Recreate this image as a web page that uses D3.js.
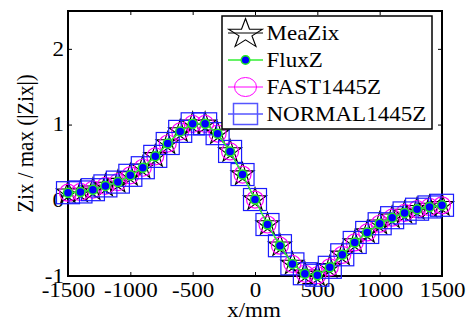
<!DOCTYPE html>
<html>
<head>
<meta charset="utf-8">
<script src="https://cdn.jsdelivr.net/npm/d3@7"></script>
<style>
  html, body { margin: 0; padding: 0; background: #fff; }
  svg { display: block; }
  svg text { font-family: "Liberation Serif", "Times New Roman", Times, serif !important; }
</style>
</head>
<body>
<svg id="chart" width="468" height="323"></svg>
<script>
  // positions along the axis, mm
  const xMM = [-1500, -1400, -1300, -1200, -1100, -1000, -900, -800, -700, -600, -500, -400, -300, -200, -100,
    0, 100, 200, 300, 400, 500, 600, 700, 800, 900, 1000, 1100, 1200, 1300, 1400, 1500];

  // normalised Zix per series
  const meaZix = [0.10, 0.11, 0.14, 0.19, 0.24, 0.33, 0.43, 0.58, 0.75, 0.91, 1.01, 1.01, 0.88, 0.645, 0.34,
    0.01, -0.32, -0.60, -0.84, -0.97, -0.99, -0.885, -0.72, -0.557, -0.425, -0.31, -0.23, -0.167, -0.118, -0.088, -0.066];
  const fluxZ = [0.10, 0.11, 0.14, 0.19, 0.24, 0.33, 0.43, 0.58, 0.75, 0.91, 1.01, 1.01, 0.88, 0.645, 0.34,
    0.01, -0.32, -0.60, -0.84, -0.97, -0.99, -0.885, -0.72, -0.557, -0.425, -0.31, -0.23, -0.167, -0.118, -0.088, -0.066];
  const fast1445Z = [0.10, 0.11, 0.14, 0.19, 0.24, 0.33, 0.43, 0.58, 0.75, 0.91, 1.01, 1.01, 0.88, 0.645, 0.34,
    0.01, -0.32, -0.60, -0.84, -0.97, -0.99, -0.885, -0.72, -0.557, -0.425, -0.31, -0.23, -0.167, -0.118, -0.088, -0.066];
  const normal1445Z = [0.10, 0.11, 0.14, 0.19, 0.24, 0.33, 0.43, 0.58, 0.75, 0.91, 1.01, 1.01, 0.88, 0.645, 0.34,
    0.01, -0.32, -0.60, -0.84, -0.97, -0.99, -0.885, -0.72, -0.557, -0.425, -0.31, -0.23, -0.167, -0.118, -0.088, -0.066];

  const xTicks = [-1500, -1000, -500, 0, 500, 1000, 1500];
  const yTicks = [-1, 0, 1, 2];
  const legendLabels = ["MeaZix", "FluxZ", "FAST1445Z", "NORMAL1445Z"];

  (function () {
  const svg = d3.select("#chart");
  const padL = 68, padR = 442, padT = 11, padB = 276;
  const SX = 1.15; // the original export is stretched sideways a bit
  const FONT = "'Liberation Serif', 'Times New Roman', serif";

  const x = d3.scaleLinear().domain([-1500, 1500]).range([padL, padR]);
  const y = d3.scaleLinear().domain([-1, 2.5]).range([padB, padT]);

  function starPath(R) {
    const r = R * 0.382;
    let p = "";
    for (let i = 0; i < 10; i++) {
      const a = -Math.PI / 2 + i * Math.PI / 5;
      const rr = i % 2 ? r : R;
      p += (i ? "L" : "M") + (rr * Math.cos(a)).toFixed(2) + "," + (rr * Math.sin(a)).toFixed(2);
    }
    return p + "Z";
  }

  // axes: ticks point inward on all four sides
  function styleAxis(g) {
    g.attr("font-family", FONT);
    g.select(".domain").remove();
    g.selectAll("line").attr("stroke", "#000").attr("stroke-width", 1);
  }
  svg.append("g").attr("transform", `translate(0,${padB})`)
    .call(d3.axisBottom(x).tickValues(xTicks).tickSizeInner(-4).tickSizeOuter(0).tickFormat(d3.format("d")))
    .call(styleAxis)
    .call((g) => g.selectAll("text").attr("y", 7).attr("font-size", 20).attr("fill", "#000")
      .attr("transform", `scale(${SX},1)`).text((d) => String(d)));
  svg.append("g").attr("transform", `translate(0,${padT})`)
    .call(d3.axisTop(x).tickValues(xTicks).tickSizeInner(-4).tickSizeOuter(0).tickFormat(""))
    .call(styleAxis);
  svg.append("g").attr("transform", `translate(${padL},0)`)
    .call(d3.axisLeft(y).tickValues(yTicks).tickSizeInner(-4).tickSizeOuter(0).tickFormat(d3.format("d")))
    .call(styleAxis)
    .call((g) => g.selectAll("text").attr("x", -3.5).attr("font-size", 20).attr("fill", "#000")
      .attr("transform", `scale(${SX},1)`).text((d) => String(d)));
  svg.append("g").attr("transform", `translate(${padR},0)`)
    .call(d3.axisRight(y).tickValues(yTicks).tickSizeInner(-4).tickSizeOuter(0).tickFormat(""))
    .call(styleAxis);

  svg.append("rect")
    .attr("x", padL).attr("y", padT).attr("width", padR - padL).attr("height", padB - padT)
    .attr("fill", "none").attr("stroke", "#000").attr("stroke-width", 2);

  const pts = (vals) => xMM.map((v, i) => [x(v), y(vals[i])]);
  const line = d3.line();
  const plot = svg.append("g");

  // MeaZix: black line + pentagrams
  plot.append("path").attr("d", line(pts(meaZix))).attr("fill", "none").attr("stroke", "#000").attr("stroke-width", 1);
  plot.selectAll("path.star").data(pts(meaZix)).join("path").attr("class", "star")
    .attr("d", starPath(12)).attr("transform", (d) => `translate(${d[0]},${d[1]})`)
    .attr("fill", "none").attr("stroke", "#000").attr("stroke-width", 1.1);

  // FAST1445Z: magenta circles
  plot.append("path").attr("d", line(pts(fast1445Z))).attr("fill", "none").attr("stroke", "#ff00ff").attr("stroke-width", 1);
  plot.selectAll("circle.fast").data(pts(fast1445Z)).join("circle").attr("class", "fast")
    .attr("cx", (d) => d[0]).attr("cy", (d) => d[1]).attr("r", 8.5)
    .attr("fill", "none").attr("stroke", "#ff00ff").attr("stroke-width", 1.2);

  // NORMAL1445Z: blue squares
  plot.append("path").attr("d", line(pts(normal1445Z))).attr("fill", "none").attr("stroke", "#0000ff").attr("stroke-width", 1);
  plot.selectAll("rect.normal").data(pts(normal1445Z)).join("rect").attr("class", "normal")
    .attr("x", (d) => d[0] - 11.5).attr("y", (d) => d[1] - 11).attr("width", 23).attr("height", 22)
    .attr("fill", "none").attr("stroke", "#1a1aff").attr("stroke-width", 1.2);

  // FluxZ: green line + blue dots
  plot.append("path").attr("d", line(pts(fluxZ))).attr("fill", "none").attr("stroke", "#33ee33").attr("stroke-width", 1.5);
  plot.selectAll("circle.flux").data(pts(fluxZ)).join("circle").attr("class", "flux")
    .attr("cx", (d) => d[0]).attr("cy", (d) => d[1]).attr("r", 4.5)
    .attr("fill", "#0000ff").attr("stroke", "#22ee22").attr("stroke-width", 1.5);

  // legend
  const lg = svg.append("g").attr("font-family", FONT);
  lg.append("rect").attr("x", 222).attr("y", 16).attr("width", 210).attr("height", 113)
    .attr("fill", "#fff").attr("stroke", "#000").attr("stroke-width", 1.5);
  const rowY = (i) => 33 + i * 27;
  const mx = 245.5;
  const legendColors = ["#000", "#33ee33", "#ff00ff", "#0000ff"];
  legendLabels.forEach((lab, i) => {
    const cy = rowY(i);
    lg.append("line").attr("x1", 228).attr("x2", 263).attr("y1", cy).attr("y2", cy)
      .attr("stroke", legendColors[i]).attr("stroke-width", i === 1 ? 1.5 : 1);
    if (i === 0) {
      lg.append("path").attr("d", starPath(15.5)).attr("transform", `translate(${mx},${cy + 1}) scale(${SX},1)`)
        .attr("fill", "none").attr("stroke", "#000").attr("stroke-width", 1);
    } else if (i === 1) {
      lg.append("circle").attr("cx", mx).attr("cy", cy).attr("r", 4.3)
        .attr("fill", "#0000ff").attr("stroke", "#22ee22").attr("stroke-width", 1.5);
    } else if (i === 2) {
      lg.append("ellipse").attr("cx", mx).attr("cy", cy).attr("rx", 11).attr("ry", 9.5)
        .attr("fill", "none").attr("stroke", "#ff00ff").attr("stroke-width", 1);
    } else {
      lg.append("rect").attr("x", mx - 12).attr("y", cy - 10.5).attr("width", 24).attr("height", 21)
        .attr("fill", "none").attr("stroke", "#5555ff").attr("stroke-width", 1.5);
    }
    lg.append("text").attr("transform", `translate(266.5,${cy + 6.5}) scale(${SX},1)`)
      .attr("font-size", 20).attr("fill", "#000").text(lab);
  });

  // axis labels
  svg.append("text").attr("transform", `translate(254,316.5) scale(${SX},1)`).attr("font-family", FONT)
    .attr("text-anchor", "middle").attr("font-size", 20).attr("fill", "#000").text("x/mm");
  svg.append("text").attr("transform", "translate(33,143.5) rotate(-90) scale(1,1.1)").attr("font-family", FONT)
    .attr("text-anchor", "middle").attr("font-size", 21).attr("fill", "#000").text("Zix / max (|Zix|)");
  })();
</script>
</body>
</html>
